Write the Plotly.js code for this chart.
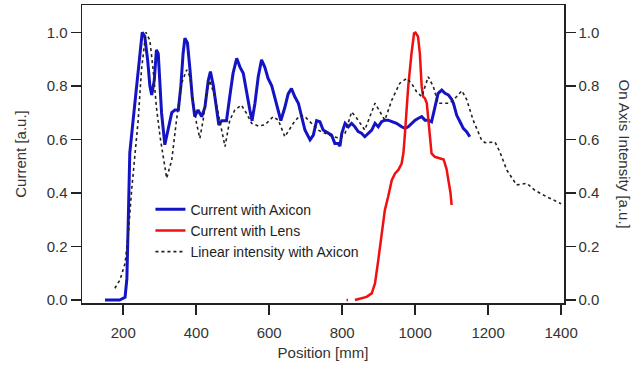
<!DOCTYPE html>
<html>
<head>
<meta charset="utf-8">
<script src="https://cdn.plot.ly/plotly-3.0.1.min.js"></script>
<style>html,body{margin:0;padding:0;background:#fff;}#chart{width:636px;height:367px;}</style>
</head>
<body>
<div id="chart"></div>
<script>
// Current with Axicon
var axiconX = [150,170,190,205,210,214,218,227,237,246,
  252,259,267,273,278,285,291,296,301,305,
  314,323,333,342,351,358,364,369,376,383,
  389,396,405,415,424,433,439,447,456,462,
  470,483,492,501,511,520,529,538,547,553,
  561,570,579,588,597,607,616,625,632,643,
  652,661,670,680,689,698,712,721,730,739,
  748,762,771,780,789,794,799,808,817,826,
  835,844,853,862,872,881,890,899,908,917,
  926,936,949,963,972,981,990,1000,1009,1018,
  1027,1036,1045,1054,1063,1073,1082,1091,1100,1105,
  1114,1123,1132,1141,1150];
var axiconY = [0.00,0.00,0.00,0.01,0.08,0.31,0.55,0.67,0.80,0.92,
  1.00,0.985,0.895,0.80,0.766,0.82,0.934,0.92,0.80,0.70,
  0.58,0.635,0.70,0.71,0.71,0.80,0.92,0.978,0.96,0.86,
  0.76,0.685,0.71,0.685,0.72,0.82,0.853,0.80,0.71,0.654,
  0.67,0.67,0.76,0.847,0.903,0.87,0.847,0.77,0.71,0.67,
  0.735,0.834,0.897,0.87,0.828,0.80,0.75,0.70,0.67,0.72,
  0.77,0.79,0.76,0.735,0.685,0.635,0.598,0.616,0.67,0.666,
  0.635,0.623,0.616,0.585,0.585,0.575,0.623,0.66,0.647,0.66,
  0.647,0.629,0.623,0.61,0.623,0.635,0.66,0.647,0.666,0.672,
  0.672,0.666,0.66,0.647,0.641,0.647,0.66,0.672,0.679,0.685,
  0.672,0.672,0.666,0.722,0.772,0.784,0.772,0.766,0.75,0.735,
  0.69,0.666,0.641,0.629,0.61];

// Current with Lens
var lensX = [812,816,null,835,849,867,881,890,899,908,917,926,
  936,945,954,963,968,972,976,981,990,997,1001,
  1008,1013,1018,1022,1027,1032,1036,1041,1045,1054,
  1068,1078,1086,1092,1097,1100];
var lensY = [0.0,0.0,null,0.0,0.004,0.012,0.025,0.062,0.149,0.249,0.336,0.386,
  0.448,0.473,0.486,0.51,0.55,0.62,0.70,0.797,0.92,0.996,0.999,
  0.984,0.92,0.797,0.76,0.753,0.735,0.672,0.598,0.548,0.535,
  0.53,0.525,0.49,0.44,0.40,0.355];

// Linear intensity with Axicon
var linX = [177,191,205,214,223,232,241,250,262,273,
  282,291,301,319,333,346,360,374,383,392,
  401,410,419,428,437,451,465,479,492,506,
  524,538,552,570,588,611,625,643,666,684,
  698,716,734,753,776,794,808,826,840,862,
  890,917,936,958,977,990,1004,1018,1036,1050,
  1063,1073,1095,1114,1128,1141,1159,1182,1191,1219,
  1232,1251,1278,1306,1328,1360,1400];
var linY = [0.044,0.075,0.137,0.25,0.41,0.548,0.672,0.86,1.0,0.97,
  0.86,0.72,0.61,0.455,0.523,0.672,0.81,0.86,0.834,0.735,
  0.66,0.604,0.672,0.772,0.82,0.76,0.672,0.573,0.672,0.71,
  0.728,0.697,0.66,0.65,0.654,0.685,0.672,0.61,0.66,0.69,
  0.685,0.66,0.635,0.623,0.61,0.604,0.623,0.703,0.679,0.635,
  0.735,0.672,0.747,0.81,0.828,0.81,0.778,0.76,0.834,0.797,
  0.735,0.735,0.735,0.76,0.782,0.75,0.672,0.598,0.588,0.59,
  0.554,0.486,0.43,0.436,0.41,0.386,0.36];

var xTicks = [200,400,600,800,1000,1200,1400];
var yTicks = [0.0,0.2,0.4,0.6,0.8,1.0];

var FONT = 'Liberation Sans, Arial, sans-serif';
var traces = [
  {x: axiconX, y: axiconY, name: 'Current with Axicon', mode: 'lines',
   line: {color: '#1414c4', width: 3}, yaxis: 'y'},
  {x: lensX, y: lensY, name: 'Current with Lens', mode: 'lines', connectgaps: false,
   line: {color: '#f01010', width: 2.5}, yaxis: 'y'},
  {x: linX, y: linY, name: 'Linear intensity with Axicon', mode: 'lines',
   line: {color: '#222', width: 1.6, dash: 'dot'}, yaxis: 'y2'}
];

var yr = [-0.011, 1.102];
var tf = {family: FONT, size: 15, color: '#333'};
var layout = {
  width: 636, height: 367,
  margin: {l: 82, r: 72, t: 5, b: 64},
  paper_bgcolor: '#fff', plot_bgcolor: '#fff',
  font: {family: FONT, size: 15, color: '#333'},
  showlegend: true,
  legend: {x: 0.142, y: 0.367, xanchor: 'left', yanchor: 'top',
    bgcolor: 'rgba(0,0,0,0)', font: {family: FONT, size: 14, color: '#222'},
    tracegroupgap: 0, itemwidth: 30},
  xaxis: {range: [87, 1408], tickvals: xTicks, ticktext: xTicks.map(String),
    showgrid: false, zeroline: false, showline: true, mirror: true,
    linecolor: '#222', linewidth: 1.5, ticks: 'outside', ticklen: 10, tickwidth: 1.5,
    tickcolor: '#222', tickfont: tf, ticklabelstandoff: 5,
    title: {text: 'Position [mm]', font: tf, standoff: 8}},
  yaxis: {range: yr, tickvals: yTicks, ticktext: yTicks.map(function(v){return v.toFixed(1);}),
    showgrid: false, zeroline: false, showline: true,
    linecolor: '#222', linewidth: 1.5, ticks: 'outside', ticklen: 10, tickwidth: 1.5,
    tickcolor: '#222', tickfont: tf,
    title: {text: 'Current [a.u.]', font: tf, standoff: 16}},
  yaxis2: {range: yr, overlaying: 'y', side: 'right', tickvals: yTicks,
    ticktext: yTicks.map(function(v){return v.toFixed(1);}),
    showgrid: false, zeroline: false, showline: true,
    linecolor: '#222', linewidth: 1.5, ticks: 'outside', ticklen: 10, tickwidth: 1.5,
    tickcolor: '#222', tickfont: tf},
  annotations: [{text: 'On Axis Intensity [a.u.]', xref: 'paper', yref: 'paper',
    x: 1, xshift: 71, y: 0.5, textangle: 90, showarrow: false, font: tf}]
};
Plotly.newPlot('chart', traces, layout, {displayModeBar: false, staticPlot: true});
</script>
</body>
</html>
